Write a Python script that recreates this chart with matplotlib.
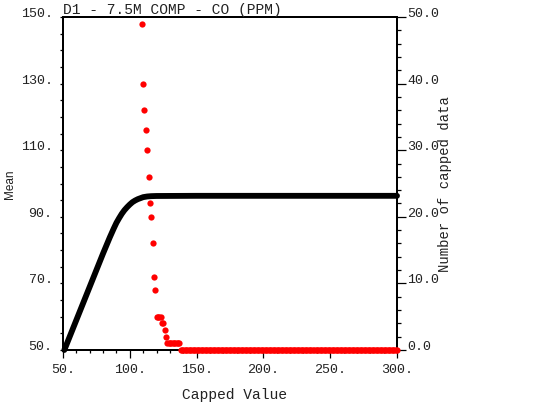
import matplotlib
matplotlib.use("Agg")
import matplotlib.pyplot as plt
from matplotlib.ticker import MultipleLocator, FixedLocator

# ---- data ----
cap_mean_x = [51, 55, 60, 65, 70, 75, 80, 85, 88, 90, 92, 94, 96, 98, 100,
              102, 104, 106, 108, 110, 113, 116, 120, 150, 200, 250, 300]
mean_y = [50.0, 54.0, 59.0, 64.0, 69.0, 74.0, 79.0, 83.8, 86.5, 88.2, 89.6,
          90.9, 92.0, 92.9, 93.7, 94.4, 94.9, 95.3, 95.6, 95.9, 96.1, 96.2,
          96.25, 96.3, 96.3, 96.3, 96.3]

cap_count_x = list(range(109, 301))
count_y = ([49, 40, 36, 33, 30, 26, 22, 20, 16, 11, 9, 5, 5, 5, 5, 4, 4, 3, 2]
           + [1] * 10 + [0] * (300 - 137))

x_ticks = [50, 100, 150, 200, 250, 300]
x_labels = ["50.", "100.", "150.", "200.", "250.", "300."]
y_ticks = [50, 70, 90, 110, 130, 150]
y_labels = ["50.", "70.", "90.", "110.", "130.", "150."]
y2_ticks = [0, 10, 20, 30, 40, 50]
y2_labels = ["0.0", "10.0", "20.0", "30.0", "40.0", "50.0"]

W, H = 533, 408
mono = "Liberation Mono"
txt_col = "#222222"

fig = plt.figure(figsize=(W / 100, H / 100), dpi=100)
ax = fig.add_axes([63 / W, 1 - 350 / H, (397 - 63) / W, (350 - 17) / H])
ax2 = ax.twinx()

ax.plot(cap_mean_x, mean_y, color="black", lw=4.2, solid_capstyle="round",
        clip_on=False, zorder=3)
ax2.plot(cap_count_x, count_y, "o", color="#ff0000", ms=4.5, mew=0,
         clip_on=False, zorder=4)

ax.set_xlim(50, 300)
ax.set_ylim(50, 150)
ax2.set_ylim(0, 50)

ax.xaxis.set_major_locator(FixedLocator(x_ticks))
ax.xaxis.set_minor_locator(MultipleLocator(10))
ax.set_xticklabels(x_labels, fontfamily=mono, fontsize=9.6, color=txt_col)
ax.yaxis.set_major_locator(FixedLocator(y_ticks))
ax.yaxis.set_minor_locator(MultipleLocator(5))
ax.set_yticklabels(y_labels, fontfamily=mono, fontsize=9.6, color=txt_col)
ax2.yaxis.set_major_locator(FixedLocator(y2_ticks))
ax2.yaxis.set_minor_locator(MultipleLocator(2))
ax2.set_yticklabels(y2_labels, fontfamily=mono, fontsize=9.6, color=txt_col)

for lab in ax.get_yticklabels() + ax2.get_yticklabels():
    lab.set_va("baseline")

ax.tick_params(axis="x", which="major", direction="out", length=5.5, width=0.9, pad=4.5)
ax.tick_params(axis="x", which="minor", direction="out", length=2.5, width=0.9)
ax.tick_params(axis="y", which="major", direction="out", length=2.5, width=0.9, pad=5)
ax.tick_params(axis="y", which="minor", direction="out", length=2.5, width=0.9)
ax2.tick_params(axis="y", which="major", direction="out", length=6.5, width=0.9, pad=1)
ax2.tick_params(axis="y", which="minor", direction="out", length=3, width=0.9)

for a in (ax, ax2):
    for s in a.spines.values():
        s.set_linewidth(1.4)

fig.text(63 / W, 1 - 14 / H, "D1 - 7.5M COMP - CO (PPM)", fontfamily=mono,
         fontsize=10.5, ha="left", va="baseline", color=txt_col)
fig.text(234 / W, 1 - 399 / H, "Capped Value", fontfamily=mono, fontsize=10.5,
         ha="center", va="baseline", color=txt_col)
fig.text(445 / W, 1 - 184 / H, "Number of capped data", fontfamily=mono,
         fontsize=10, rotation=90, ha="center", va="center", color=txt_col)
fig.text(10 / W, 1 - 184 / H, "Mean", fontfamily="Liberation Sans",
         fontsize=8.5, rotation=90, ha="center", va="center", color=txt_col)

fig.savefig("out.png", dpi=100)
